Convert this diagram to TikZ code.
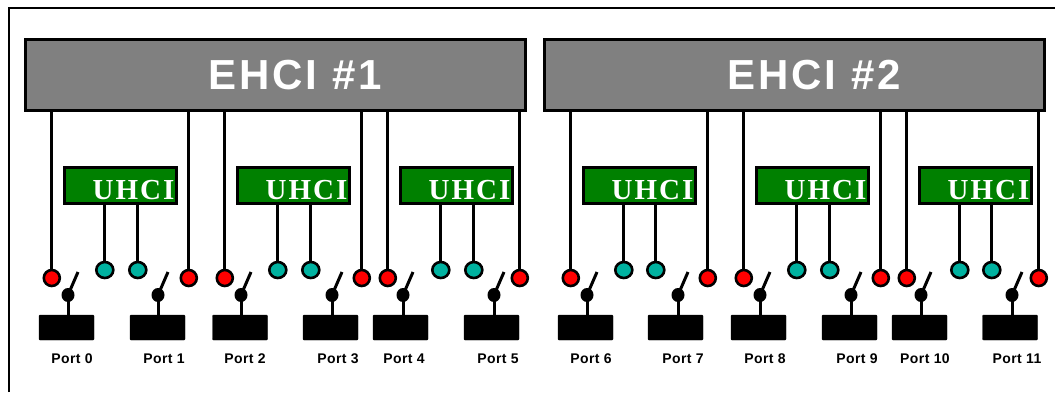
\documentclass[tikz,border=0pt]{standalone}
\usepackage{fontspec}
\setmainfont{Liberation Sans}
\newfontfamily\uhcifont[LetterSpace=7]{Liberation Serif}
\newfontfamily\ehcifont[LetterSpace=7]{Liberation Sans}
\newfontfamily\portfont[LetterSpace=3]{Liberation Sans}
\definecolor{ehcigray}{RGB}{128,128,128}
\definecolor{uhcigreen}{RGB}{0,128,0}
\definecolor{tealdot}{RGB}{0,178,160}
\tikzset{
  ehci/.style={rectangle,draw,line width=3pt,fill=ehcigray,minimum width=500.5pt,minimum height=71pt,inner sep=0pt,text=white,font=\ehcifont\fontsize{42}{42}\selectfont\bfseries},
  uhci/.style={rectangle,draw,line width=3pt,fill=uhcigreen,minimum width=112pt,minimum height=36pt,inner sep=0pt,text=white,font=\uhcifont\fontsize{29}{29}\selectfont\bfseries},
  reddot/.style={circle,draw,line width=2.6pt,fill=red,minimum size=16pt,inner sep=0pt},
  grndot/.style={ellipse,draw,line width=2.6pt,fill=tealdot,minimum width=17pt,minimum height=16pt,inner sep=0pt},
  portbox/.style={rectangle,draw,rounded corners=1pt,fill=black,minimum width=55pt,minimum height=25pt,inner sep=0pt},
  pivot/.style={ellipse,fill=black,minimum width=13pt,minimum height=14pt,inner sep=0pt},
  portlabel/.style={font=\portfont\fontsize{14}{14}\selectfont\bfseries,inner sep=0pt},
  wire/.style={line width=3pt},
  frameline/.style={line width=2.2pt}
}
\usetikzlibrary{shapes.geometric}
\begin{document}
\begin{tikzpicture}[x=1pt,y=-1pt]
\useasboundingbox (0,0) rectangle (1055,392);

% frame, cut off at the right and at the bottom
\coordinate (FrameA) at (9,392);
\coordinate (FrameB) at (9,8);
\coordinate (FrameC) at (1055,8);
\draw[frameline] (FrameA) -- (FrameB) -- (FrameC);

\draw(275.5,75) node[ehci] (E1) {\hspace{39pt}\rule{0pt}{30pt}EHCI \#1};
\draw(794.5,75) node[ehci] (E2) {\hspace{39pt}\rule{0pt}{30pt}EHCI \#2};

% controllers: name/centre/left teal/right teal
\foreach \n/\x/\a/\b in {1/120.5/104.8/137.8,2/293.5/277.8/310.8,3/456.5/440.8/473.8,
                         4/639.5/623.8/655.8,5/812.5/796.8/829.8,6/975.5/959.8/991.8}{
  \draw(\x,185.5) node[uhci] (U\n) {\hspace{26pt}\rule{0pt}{28pt}UHCI};
  \draw(\a,270) node[grndot] (Ga\n) {};
  \draw(\b,270) node[grndot] (Gb\n) {};
  \coordinate (Ta\n) at (U\n.south -| Ga\n);
  \coordinate (Tb\n) at (U\n.south -| Gb\n);
  \draw[wire] (Ta\n) -- (Ga\n);
  \draw[wire] (Tb\n) -- (Gb\n);
}

% ports: number/red dot/box/pivot/label/EHCI
\foreach \n/\r/\b/\p/\l/\e in {0/51.8/66.5/68/72/1,1/188.8/157.5/158/164/1,2/224.8/240/241/245/1,
    3/361.8/330.5/332/338/1,4/387.8/400.5/403/404/1,5/519.8/491.5/494/498/1,
    6/570.8/585.5/587/591/2,7/707.8/675.5/678/683/2,8/743.8/758.5/760/765/2,
    9/880.8/849.5/851/857/2,10/906.8/919.5/921/925/2,11/1038.8/1010/1012/1017/2}{
  \draw(\r,278) node[reddot] (R\n) {};
  \draw(\b,327.5) node[portbox] (B\n) {};
  \draw(\p,295) node[pivot] (S\n) {};
  \draw(\l,359) node[portlabel] (P\n) {Port \n};
  \coordinate (Top\n) at (E\e.south -| R\n);
  \coordinate (Low\n) at (B\n.north -| S\n);
  \coordinate (Arm\n) at ([shift={(10,-23)}]S\n.center);
  \draw[wire] (Top\n) -- (R\n);
  \draw[wire] (S\n.center) -- (Low\n);
  \draw[wire] (S\n.center) -- (Arm\n);
}
\end{tikzpicture}
\end{document}
